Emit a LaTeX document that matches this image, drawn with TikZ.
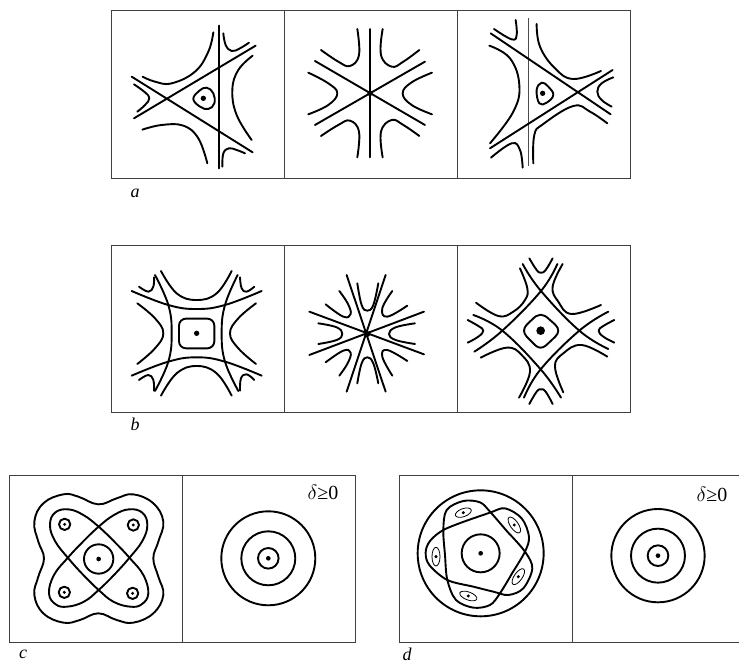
\documentclass[tikz,border=0pt]{standalone}
\usepackage{fontspec}
\setmainfont{Liberation Serif}
\tikzset{
  frameline/.style={draw=black!75,line width=0.9pt},
  curve/.style={draw=black,line width=1.9pt,line cap=round,line join=round},
  thinloop/.style={draw=black,line width=0.8pt},
  panellabel/.style={font=\itshape\fontsize{18}{18}\selectfont,inner sep=0pt},
  deltalabel/.style={font=\fontsize{20}{20}\selectfont,inner sep=0pt},
  zoomA/.style={shift={(105pt,-5pt)},x=0.3333pt,y=-0.3333pt},
  zoomB/.style={shift={(370pt,-5pt)},x=0.3333pt,y=-0.3333pt},
  zoomC/.style={shift={(105pt,-240pt)},x=0.3333pt,y=-0.3333pt},
  zoomD/.style={shift={(370pt,-240pt)},x=0.3333pt,y=-0.3333pt},
  zoomE/.style={shift={(0pt,-465pt)},x=0.3333pt,y=-0.3333pt},
  zoomF/.style={shift={(390pt,-465pt)},x=0.3333pt,y=-0.3333pt},
  zoomG/.style={shift={(570pt,-465pt)},x=0.3333pt,y=-0.3333pt},
}
\newcommand{\sm}[1]{plot[smooth,tension=0.7] coordinates {#1}}
\newcommand{\smc}[1]{plot[smooth cycle,tension=0.7] coordinates {#1}}
\begin{document}
\begin{tikzpicture}[x=1pt,y=-1pt]
\useasboundingbox (0,0) rectangle (739,664);
% frames
\draw[frameline] (111,10) rectangle (630,178) (284,10) -- (284,178) (457,10) -- (457,178);
\draw[frameline] (111,245) rectangle (630,412) (284,245) -- (284,412) (457,245) -- (457,412);
\draw[frameline] (9,475) rectangle (355,642) (182,475) -- (182,642);
\draw[frameline] (739,475) -- (399,475) -- (399,642) -- (739,642) (572,475) -- (572,642);
% a1
\begin{scope}[zoomA]
\draw[curve] (342,62) -- (342,490) (452,122) -- (87,340) (80,215) -- (443,442);
\draw[curve] \sm{(325,82) (310,140) (270,200) (200,235) (150,230) (113,215)};
\draw[curve] \sm{(443,152) (400,195) (382,255) (395,330) (440,405)};
\draw[curve] \sm{(112,374) (170,360) (235,362) (280,400) (307,475)};
\draw[curve] \sm{(87,238) (120,262) (133,280) (120,300) (97,320)};
\draw[curve] \sm{(355,85) (362,120) (380,138) (405,130) (432,113)};
\draw[curve] \sm{(352,485) (355,445) (372,430) (395,435) (420,445)};
\draw[curve] \smc{(305,248) (325,265) (328,295) (310,312) (285,305) (265,282) (282,258)};
\fill (295,280) circle (8);
% a2 left half and whole rays
\draw[curve] (630,168) -- (960,360) (630,360) -- (960,170) (795,72) -- (795,457);
\draw[curve] \sm{(757,72) (762,150) (735,183) (700,170) (648,135)};
\draw[curve] \sm{(757,457) (762,380) (735,347) (700,360) (648,393)};
\draw[curve] \sm{(610,203) (670,235) (697,265) (670,300) (610,328)};
\fill (795,265) circle (8);
\end{scope}
% a2 right, a3
\begin{scope}[zoomB]
\draw[curve] \sm{(38,72) (33,150) (65,185) (100,170) (148,135)};
\draw[curve] \sm{(38,457) (33,380) (65,345) (100,360) (148,393)};
\draw[curve] \sm{(186,203) (125,232) (98,265) (125,300) (186,328)};
\draw[draw=black!70,line width=0.9pt] (474,40) -- (474,483);
\draw[curve] (362,85) -- (722,328) (360,430) -- (728,195);
\draw[curve] \sm{(490,475) (493,390) (520,357) (610,303) (660,320) (712,355)};
\draw[curve] \sm{(500,57) (510,125) (555,190) (610,222) (693,198)};
\draw[curve] \sm{(358,122) (420,160) (448,240) (430,320) (360,415)};
\draw[curve] \sm{(372,72) (425,103) (440,90) (437,45)};
\draw[curve] \sm{(363,458) (425,415) (450,435) (458,488)};
\draw[curve] \sm{(730,217) (695,235) (682,260) (695,285) (725,305)};
\draw[curve] \smc{(500,255) (515,233) (535,245) (550,270) (530,293) (508,295)};
\fill (518,265) circle (8);
\end{scope}
% b1, b2 left
\begin{scope}[zoomC]
\draw[curve] \sm{(80,153) (190,195) (275,207) (360,195) (470,153)};
\draw[curve] \sm{(80,407) (190,365) (275,352) (360,365) (470,407)};
\draw[curve] \sm{(150,105) (190,195) (200,280) (190,365) (150,453)};
\draw[curve] \sm{(398,105) (360,195) (350,280) (360,365) (400,453)};
\draw[curve] \sm{(168,93) (215,160) (275,180) (335,160) (380,93)};
\draw[curve] \sm{(168,467) (215,400) (275,378) (335,400) (380,467)};
\draw[curve] \sm{(97,190) (150,235) (175,280) (150,325) (97,372)};
\draw[curve] \sm{(453,190) (400,235) (375,280) (400,325) (453,372)};
\draw[curve] \sm{(102,140) (130,155) (145,140) (147,112)};
\draw[curve] \sm{(405,112) (410,145) (425,155) (448,140)};
\draw[curve] \sm{(102,420) (130,405) (145,420) (147,452)};
\draw[curve] \sm{(405,452) (408,415) (425,403) (448,420)};
\draw[curve,rounded corners=7pt] (222,236) rectangle (328,325);
\fill (275,280) circle (8);
% b2
\draw[curve] (613,215) -- (957,343) (613,345) -- (957,215) (725,105) -- (842,455) (725,455) -- (842,105);
\draw[curve] \sm{(640,250) (695,262) (712,282) (695,300) (640,312)};
\draw[curve] \sm{(662,193) (715,230) (737,222) (728,190) (703,153)};
\draw[curve] \sm{(757,130) (770,195) (787,212) (805,195) (820,130)};
\draw[curve] \sm{(862,153) (832,205) (847,230) (907,197)};
\draw[curve] \sm{(930,250) (872,262) (852,282) (872,300) (930,312)};
\draw[curve] \sm{(862,407) (832,350) (847,330) (907,363)};
\draw[curve] \sm{(757,430) (770,370) (787,352) (805,370) (820,430)};
\draw[curve] \sm{(662,367) (715,332) (737,338) (728,370) (703,407)};
\fill (787,282) circle (9);
\end{scope}
% b3
\begin{scope}[zoomD]
\draw[curve] \sm{(458,72) (513,153) (628,272) (715,327)};
\draw[curve] \sm{(562,72) (513,153) (397,272) (313,335)};
\draw[curve] \sm{(310,225) (397,272) (512,388) (573,473)};
\draw[curve] \sm{(715,215) (628,272) (512,388) (462,473)};
\draw[curve] \sm{(478,55) (500,90) (513,98) (527,90) (548,55)};
\draw[curve] \sm{(478,492) (500,455) (513,448) (527,455) (548,492)};
\draw[curve] \sm{(293,240) (325,258) (340,272) (325,290) (293,308)};
\draw[curve] \sm{(733,240) (700,258) (686,272) (700,290) (733,308)};
\draw[curve] \sm{(318,188) (385,228) (430,215) (465,180) (472,145) (450,85)};
\draw[curve] \sm{(578,72) (548,140) (565,185) (605,222) (693,195)};
\draw[curve] \sm{(332,353) (410,323) (455,345) (480,395) (447,473)};
\draw[curve] \sm{(712,350) (635,315) (580,340) (555,380) (580,457)};
\draw[curve] \smc{(512,224) (540,240) (565,272) (540,305) (512,323) (485,305) (462,272) (485,240)};
\fill (512,272) circle (13);
\end{scope}
% c
\begin{scope}[zoomE]
\draw[curve] \smc{(295,118) (235,95) (190,88) (130,115) (103,170) (115,230) (132,280) (115,335) (103,390) (130,445) (190,473) (240,465) (295,445) (350,465) (400,473) (460,445) (490,390) (475,335) (460,280) (475,230) (490,170) (460,115) (400,88) (350,100)};
\draw[curve] \smc{(150,180) (165,143) (205,133) (250,150) (296,185) (345,232) (390,280) (430,330) (445,385) (425,418) (390,425) (340,410) (296,375) (250,330) (205,280) (165,228)};
\draw[curve] \smc{(442,180) (427,143) (387,133) (342,150) (296,185) (247,232) (202,280) (162,330) (147,385) (167,418) (202,425) (252,410) (296,375) (342,330) (387,280) (427,228)};
\draw[curve] (296,282) circle (44);
\fill (296,282) circle (7);
\foreach \p in {(194,178),(400,180),(193,382),(398,385)}{
  \draw[curve] \p circle (17);
  \fill \p circle (5);
}
\end{scope}
% d left
\begin{scope}[zoomF]
\draw[curve] (272,265) circle (189);
\draw[curve] (272,265) circle (57);
\fill (272,265) circle (7);
% one closed curve with five lobes, split at the sides of the pentagon
\draw[curve] plot[smooth,tension=0.55] coordinates {(230,167) (160,195) (120,228) (107,262) (118,300) (172,345) (250,365) (310,380) (355,390) (400,370) (427,310) (405,260) (352,200)};
\draw[curve] plot[smooth,tension=0.55] coordinates {(352,200) (300,140) (270,112) (220,108) (170,135) (160,195) (165,270) (172,345) (198,405) (250,428) (300,420) (330,385) (368,322)};
\draw[curve] plot[smooth,tension=0.55] coordinates {(368,322) (405,260) (417,215) (395,160) (345,130) (300,143) (230,167)};
\draw[thinloop] (220,143) ellipse[x radius=25,y radius=12,rotate=20];
\draw[thinloop] (373,180) ellipse[x radius=28,y radius=12,rotate=-55];
\draw[thinloop] (385,335) ellipse[x radius=28,y radius=12,rotate=55];
\draw[thinloop] (235,393) ellipse[x radius=27,y radius=12,rotate=-20];
\draw[thinloop] (138,275) ellipse[x radius=28,y radius=12,rotate=90];
\foreach \p in {(220,143),(373,180),(385,335),(235,393),(138,275)}{\fill \p circle (5);}
\end{scope}
% d right
\begin{scope}[zoomG]
\draw[curve] (264,272) circle (140);
\draw[curve] (264,272) circle (81);
\draw[curve] (264,272) circle (31);
\fill (264,272) circle (7);
\end{scope}
% c right
\draw[curve] (268.3,558.3) circle (47);
\draw[curve] (268.3,558.3) circle (27);
\draw[curve] (268.3,558.3) circle (10.3);
\fill (268.3,558.3) circle (2.3);
% labels
\node[panellabel] (la) at (135,193) {a};
\node[panellabel] (lb) at (135,424) {b};
\node[panellabel] (lc) at (23,654) {c};
\node[panellabel] (ld) at (407,654) {d};
\node[deltalabel] (dc) at (323,492) {$\delta$≥0};
\node[deltalabel] (dd) at (712,494) {$\delta$≥0};
\end{tikzpicture}
\end{document}
